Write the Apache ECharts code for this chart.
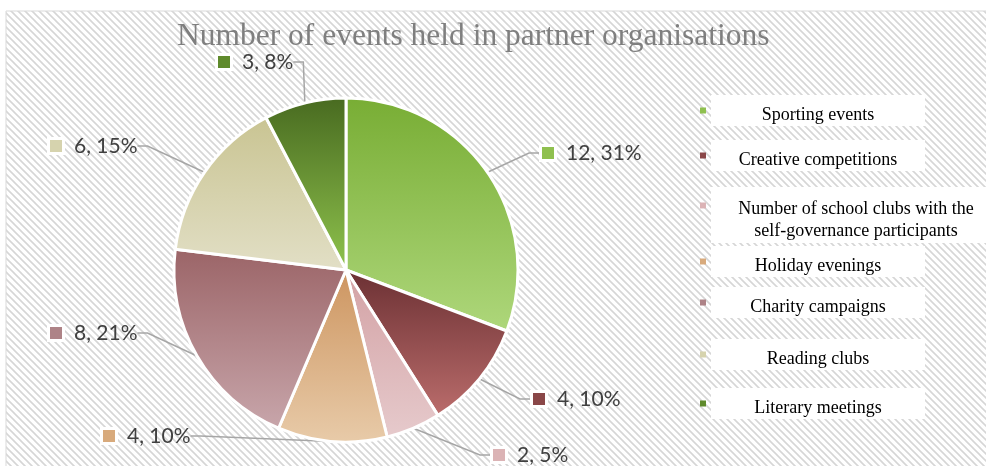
<!DOCTYPE html>
<html>
<head>
<meta charset="utf-8">
<script src="https://cdn.jsdelivr.net/npm/echarts@6/dist/echarts.min.js"></script>
<style>
html, body { margin: 0; padding: 0; background: #fff; }
#chart { width: 986px; height: 466px; }
</style>
</head>
<body>
<div id="chart"></div>
<script>
var chartTitle = 'Number of events held in partner organisations';
var categories = [
    'Sporting events',
    'Creative competitions',
    'Number of school clubs with the self-governance participants',
    'Holiday evenings',
    'Charity campaigns',
    'Reading clubs',
    'Literary meetings'
];
var values = [12, 4, 2, 4, 8, 6, 3];

// slice gradients, top -> bottom
var topColors = ['#78ad34', '#6b3033', '#d3a1a4', '#cd9560', '#9b6467', '#c9c492', '#486a20'];
var bottomColors = ['#aed77b', '#bb6d6c', '#e6cacc', '#e8cba9', '#c8a6ab', '#e2dfc6', '#8fc34d'];
var markColors = ['#8fc04f', '#8a4748', '#dbb3b5', '#d8aa7c', '#ae8387', '#d6d3ae', '#5f8a2c'];

// where each data label sits (left edge, middle)
var labelSpots = [[542, 153], [533, 399], [493, 455], [103, 436], [50, 333], [50, 146], [218, 62]];
var legendTops = [95, 140, 187, 246, 287, 339, 388];

function hatchTile() {
    var c = document.createElement('canvas');
    c.width = 7;
    c.height = 7;
    var g = c.getContext('2d');
    g.fillStyle = '#ffffff';
    g.fillRect(0, 0, 7, 7);
    g.strokeStyle = '#d6d6d6';
    g.lineWidth = 1.6;
    g.beginPath();
    for (var k = -1; k <= 1; k++) {
        g.moveTo(-1, -1 + 7 * k);
        g.lineTo(8, 8 + 7 * k);
    }
    g.stroke();
    return c;
}

var chartDom = document.getElementById('chart');
var myChart = echarts.init(chartDom);

var labelRich = {
    t: { fontFamily: 'Lato', fontSize: 21, color: '#404040', padding: [0, 0, 0, 12] }
};
markColors.forEach(function (c, i) {
    labelRich['s' + i] = { width: 12, height: 12, backgroundColor: c, borderColor: '#fff', borderWidth: 3 };
});

var pieData = categories.map(function (name, i) {
    return {
        name: name,
        value: values[i],
        itemStyle: {
            color: new echarts.graphic.LinearGradient(0, 0, 0, 1, [
                { offset: 0, color: topColors[i] },
                { offset: 1, color: bottomColors[i] }
            ])
        }
    };
});

var legendFont = { fontFamily: 'Liberation Serif', fontSize: 18, color: '#000', align: 'center', backgroundColor: '#fff' };
var legends = categories.map(function (name, i) {
    var twoLines = i === 2;
    return {
        orient: 'vertical',
        left: 700,
        top: legendTops[i],
        padding: 0,
        selectedMode: false,
        itemWidth: 6,
        itemHeight: twoLines ? 25 : 6,
        data: [{
            name: name,
            icon: twoLines ? 'path://M0,0h1v1h-1zM0,4.2' : 'rect',
            itemStyle: { color: markColors[i], borderWidth: 0 }
        }],
        formatter: function (n) {
            if (twoLines) {
                return '{w1|Number of school clubs with the}\n{w2|self-governance participants}';
            }
            return '{b|' + n + '}';
        },
        textStyle: {
            rich: {
                b: Object.assign({ width: 214, height: 21, padding: [10, 0, 0, 0], lineHeight: 31 }, legendFont),
                w1: Object.assign({ width: 290, height: 20, padding: [12, 0, 0, 0], lineHeight: 32 }, legendFont),
                w2: Object.assign({ width: 290, height: 20, padding: [2, 0, 2, 0], lineHeight: 24 }, legendFont)
            }
        }
    };
});

var option = {
    animation: false,
    graphic: [{
        type: 'rect',
        z: -10,
        silent: true,
        shape: { x: 6, y: 11, width: 990, height: 470 },
        style: {
            fill: { image: hatchTile(), repeat: 'repeat' },
            stroke: '#d9d9d9',
            lineWidth: 1
        }
    }],
    title: {
        text: chartTitle,
        left: 172,
        top: 16,
        textStyle: {
            fontFamily: 'Liberation Serif',
            fontSize: 31.5,
            fontWeight: 'normal',
            color: '#7f7f7f'
        }
    },
    legend: legends,
    series: [{
        type: 'pie',
        center: [346, 270],
        radius: 172,
        startAngle: 90,
        clockwise: true,
        avoidLabelOverlap: false,
        itemStyle: { borderColor: '#fff', borderWidth: 3 },
        label: {
            show: true,
            position: 'outside',
            formatter: function (p) {
                return '{s' + p.dataIndex + '| }{t|' + p.value + ', ' + Math.round(p.percent) + '%}';
            },
            rich: labelRich
        },
        labelLine: {
            show: true,
            length: 15,
            length2: 10,
            lineStyle: { color: '#a6a6a6', width: 1.5 }
        },
        labelLayout: function (params) {
            var s = labelSpots[params.dataIndex];
            return { x: s[0], y: s[1], align: 'left', verticalAlign: 'middle' };
        },
        emphasis: { disabled: true },
        data: pieData
    }]
};
option && myChart.setOption(option);
</script>
</body>
</html>
